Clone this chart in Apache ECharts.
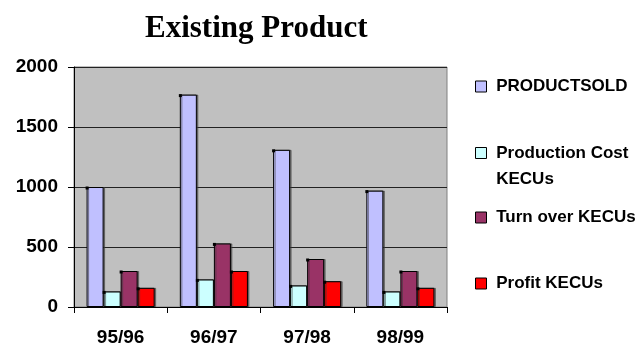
<!DOCTYPE html>
<html>
<head>
<meta charset="utf-8">
<script src="https://cdn.jsdelivr.net/npm/echarts@6/dist/echarts.min.js"></script>
<style>
  html, body { margin: 0; padding: 0; background: #fff; }
  #chart { width: 639px; height: 350px; }
</style>
</head>
<body>
<div id="chart"></div>
<script>
// Yearly figures for the existing product line
const years = ['95/96', '96/97', '97/98', '98/99'];
const productSold = [1000, 1770, 1310, 970];
const productionCost = [130, 230, 180, 130];
const turnover = [300, 530, 400, 300];
const profit = [160, 300, 215, 160];
const yTicks = [0, 500, 1000, 1500, 2000];

const seriesNames = ['PRODUCTSOLD', 'Production Cost KECUs', 'Turn over KECUs', 'Profit KECUs'];
const seriesColors = ['#c0c0ff', '#ccffff', '#993366', '#ff0000'];
const seriesValues = [productSold, productionCost, turnover, profit];

const font = 'Arial, "Liberation Sans", sans-serif';

const chart = echarts.init(document.getElementById('chart'), null, { renderer: 'canvas' });

function legendFor(name, top, extra) {
  return Object.assign({
    data: [name],
    left: 475,
    top: top,
    padding: 0,
    itemWidth: 11,
    itemHeight: 11,
    itemGap: 0,
    itemStyle: { borderColor: '#000', borderWidth: 1 },
    icon: 'rect',
    formatter: (n) => ' ' + n,
    textStyle: { fontFamily: font, fontWeight: 'bold', fontSize: 17, color: '#000' },
    selectedMode: false
  }, extra || {});
}

chart.setOption({
  animation: false,
  backgroundColor: '#fff',
  title: {
    text: 'Existing Product',
    left: 145,
    top: 13,
    padding: 0,
    textStyle: { fontFamily: '"Liberation Serif", "Times New Roman", serif', fontWeight: 'bold', fontSize: 31, color: '#000' }
  },
  legend: [
    legendFor(seriesNames[0], 78),
    // two-line entry: a blank first line keeps "Production Cost" level with the swatch
    legendFor(seriesNames[1], 114, {
      formatter: () => ' \n Production Cost\n KECUs',
      textStyle: { fontFamily: font, fontWeight: 'bold', fontSize: 17, color: '#000', lineHeight: 26 }
    }),
    legendFor(seriesNames[2], 209),
    legendFor(seriesNames[3], 275)
  ],
  grid: {
    left: 74, right: 192, top: 67, bottom: 43,
    show: true,
    backgroundColor: '#c0c0c0',
    borderColor: '#808080',
    borderWidth: 1
  },
  xAxis: {
    type: 'category',
    data: years,
    axisLine: { lineStyle: { color: '#000', width: 1 } },
    axisTick: { show: true, length: 6, lineStyle: { color: '#000' } },
    axisLabel: { fontFamily: font, fontWeight: 'bold', fontSize: 19, color: '#000', margin: 21 }
  },
  yAxis: {
    type: 'value',
    min: yTicks[0],
    max: yTicks[yTicks.length - 1],
    interval: yTicks[1] - yTicks[0],
    axisLine: { show: true, lineStyle: { color: '#000', width: 1 } },
    axisTick: { show: true, length: 6, lineStyle: { color: '#000' } },
    axisLabel: {
      fontFamily: font, fontWeight: 'bold', fontSize: 19, color: '#000', margin: 16,
      formatter: (v) => String(v)
    },
    splitLine: { show: true, lineStyle: { color: '#222', width: 1 } }
  },
  series: seriesNames.map((name, i) => ({
    name: name,
    type: 'bar',
    data: seriesValues[i],
    barGap: '0%',
    barCategoryGap: '27%',
    itemStyle: {
      color: seriesColors[i],
      borderColor: '#000',
      borderWidth: 1,
      shadowColor: 'rgba(60,60,60,0.6)',
      shadowOffsetX: 1.5,
      shadowOffsetY: 0
    },
    markPoint: {
      symbol: 'rect',
      symbolSize: 3,
      symbolOffset: [-8, 1],
      silent: true,
      label: { show: false },
      itemStyle: { color: '#000', borderWidth: 0, shadowBlur: 0, shadowOffsetX: 0 },
      data: seriesValues[i].map((v, j) => ({ coord: [j, v] }))
    }
  }))
});
</script>
</body>
</html>
